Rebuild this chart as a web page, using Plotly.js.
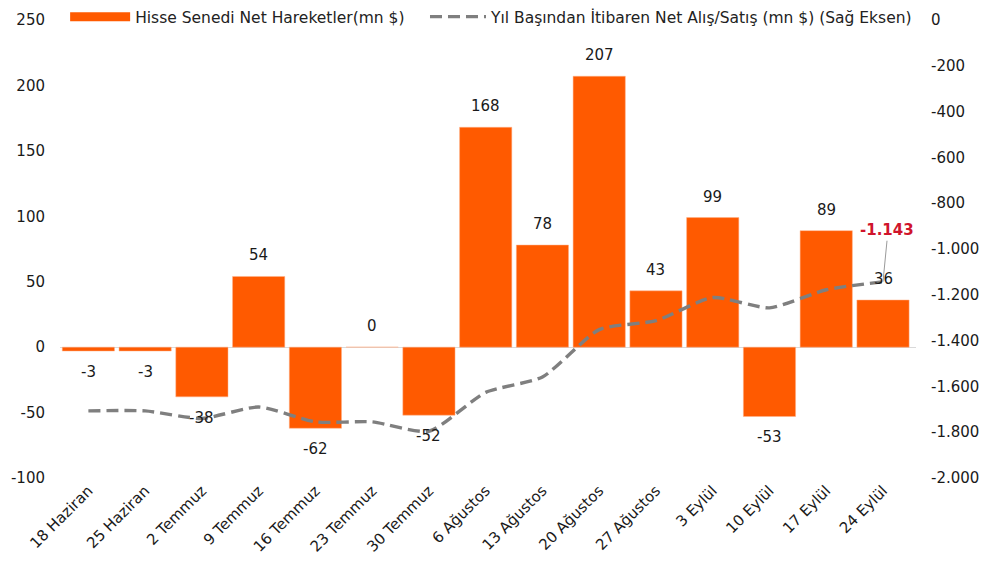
<!DOCTYPE html>
<html>
<head>
<meta charset="utf-8">
<script src="https://cdn.plot.ly/plotly-3.0.1.min.js"></script>
<style>html,body{margin:0;padding:0;background:#fff;}#chart{width:986px;height:570px;}</style>
</head>
<body>
<div id="chart"></div>
<script>
const categories = ["18 Haziran","25 Haziran","2 Temmuz","9 Temmuz","16 Temmuz","23 Temmuz","30 Temmuz","6 Ağustos","13 Ağustos","20 Ağustos","27 Ağustos","3 Eylül","10 Eylül","17 Eylül","24 Eylül"];
const netFlows = [-3,-3,-38,54,-62,0,-52,168,78,207,43,99,-53,89,36];
const ytdCumulative = [-1707,-1707,-1740,-1690,-1755,-1755,-1796,-1626,-1559,-1352,-1313,-1212,-1257,-1178,-1143];
const leftTicks = [-100,-50,0,50,100,150,200,250];
const rightTicks = [-2000,-1800,-1600,-1400,-1200,-1000,-800,-600,-400,-200,0];
const barName = "Hisse Senedi Net Hareketler(mn $)";
const lineName = "Yıl Başından İtibaren Net Alış/Satış (mn $) (Sağ Eksen)";

function fmtTR(v){
  const s = Math.abs(v).toString().replace(/\B(?=(\d{3})+(?!\d))/g, ".");
  return (v < 0 ? "-" : "") + s;
}

const FONT = "DejaVu Sans, Verdana, sans-serif";
const ORANGE = "#FF5A00";
const TXT = "#1a1a1a";

const traces = [
  {type:"bar", x:categories, y:netFlows, name:barName, marker:{color:ORANGE, line:{color:"#ffb38a", width:0.5}}, showlegend:false, hoverinfo:"x+y"},
  {type:"scatter", mode:"lines", x:[categories[0]], y:[null], name:barName, legend:"legend", line:{color:ORANGE, width:9}, showlegend:true, hoverinfo:"skip"},
  {type:"scatter", mode:"lines", x:categories, y:ytdCumulative, name:lineName, yaxis:"y2", legend:"legend2", line:{color:"#7f7f7f", width:3.4, dash:"12px,6px", shape:"spline", smoothing:0.6}, showlegend:true}
];

const annotations = categories.map((c,i)=>({
  x:c, y:netFlows[i], xref:"x", yref:"y", text:String(netFlows[i]), showarrow:false,
  yshift: netFlows[i] >= 0 ? 21 : -21, font:{family:FONT, size:15, color:TXT}
}));
const last = categories.length - 1;
annotations.push({
  x:categories[last], y:ytdCumulative[last], xref:"x", yref:"y2", text:fmtTR(ytdCumulative[last]),
  showarrow:true, arrowhead:0, arrowwidth:1, arrowcolor:"#9a9a9a", ax:4, ay:-41, xanchor:"center", yanchor:"bottom",
  font:{family:FONT, size:15, color:"#D0142C", weight:"bold"}
});

const legendBase = {orientation:"h", xanchor:"left", y:1.004, yanchor:"top", font:{family:FONT, size:15.5, color:"#222"}, bgcolor:"rgba(255,255,255,0)"};

const layout = {
  width:986, height:570,
  margin:{l:60, r:70, t:0, b:92},
  paper_bgcolor:"#fff", plot_bgcolor:"#fff",
  font:{family:FONT, size:15, color:TXT},
  bargap:0.08,
  showlegend:true,
  legend:Object.assign({}, legendBase, {x:0.006, itemwidth:60}),
  legend2:Object.assign({}, legendBase, {x:0.4264, itemwidth:56}),
  xaxis:{type:"category", tickangle:-45, showgrid:false, zeroline:false, showline:false, ticks:"", tickfont:{family:FONT, size:15, color:TXT}},
  yaxis:{domain:[0,0.9623], range:[-100,250], tickvals:leftTicks, ticktext:leftTicks.map(fmtTR), showgrid:false, zeroline:true, zerolinecolor:"#d9d9d9", zerolinewidth:1, showline:false, ticks:"", ticklabelstandoff:14, tickfont:{family:FONT, size:15, color:TXT}},
  yaxis2:{domain:[0,0.9623], range:[-2000,0], overlaying:"y", side:"right", tickvals:rightTicks, ticktext:rightTicks.map(fmtTR), showgrid:false, zeroline:false, showline:false, ticks:"", ticklabelstandoff:14, tickfont:{family:FONT, size:15, color:TXT}},
  annotations:annotations
};

Plotly.newPlot("chart", traces, layout, {staticPlot:true, displayModeBar:false});
</script>
</body>
</html>
